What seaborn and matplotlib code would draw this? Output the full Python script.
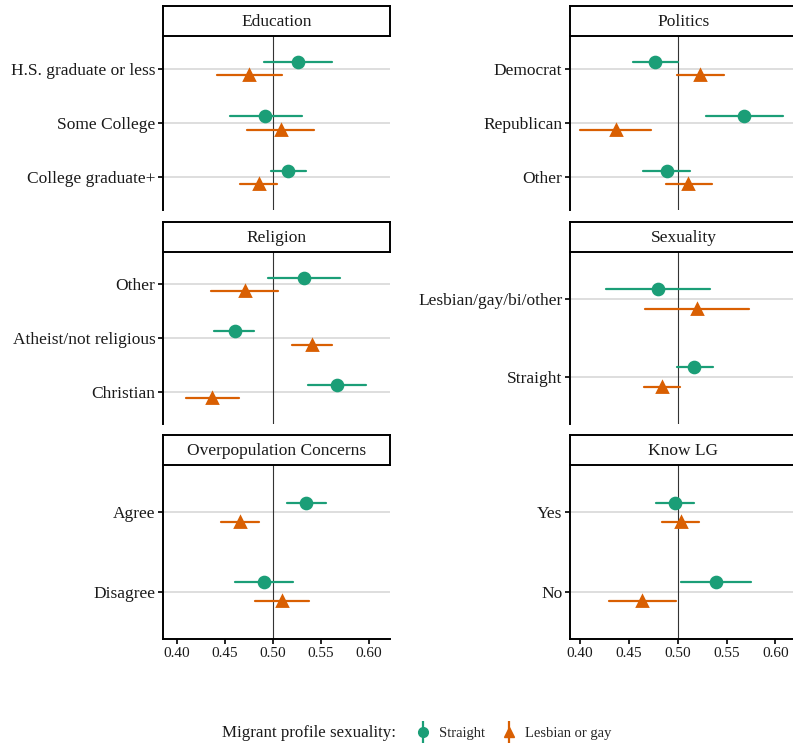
import numpy as np
import pandas as pd
import matplotlib
matplotlib.use("Agg")
import matplotlib.pyplot as plt
import seaborn as sns
from matplotlib.lines import Line2D
from matplotlib.legend_handler import HandlerTuple

sns.set_theme(style="white")
plt.rcParams['font.family'] = ['Liberation Serif', 'DejaVu Serif']

GREEN = "#1B9E77"
ORANGE = "#D95F02"
groups = ["Straight", "Lesbian or gay"]

# ---------------- data (estimate, lower, upper) ----------------
edu_levels = ["H.S. graduate or less", "Some College", "College graduate+"]
edu_s_est = [0.526, 0.492, 0.516]
edu_s_lo = [0.491, 0.455, 0.498]
edu_s_hi = [0.562, 0.530, 0.534]
edu_g_est = [0.475, 0.508, 0.485]
edu_g_lo = [0.442, 0.473, 0.466]
edu_g_hi = [0.510, 0.543, 0.504]

pol_levels = ["Democrat", "Republican", "Other"]
pol_s_est = [0.477, 0.568, 0.489]
pol_s_lo = [0.454, 0.529, 0.465]
pol_s_hi = [0.500, 0.608, 0.513]
pol_g_est = [0.523, 0.437, 0.511]
pol_g_lo = [0.499, 0.400, 0.488]
pol_g_hi = [0.547, 0.473, 0.535]

rel_levels = ["Other", "Atheist/not religious", "Christian"]
rel_s_est = [0.532, 0.460, 0.567]
rel_s_lo = [0.495, 0.439, 0.537]
rel_s_hi = [0.570, 0.480, 0.597]
rel_g_est = [0.471, 0.541, 0.437]
rel_g_lo = [0.436, 0.520, 0.409]
rel_g_hi = [0.505, 0.562, 0.465]

sex_levels = ["Lesbian/gay/bi/other", "Straight"]
sex_s_est = [0.480, 0.517]
sex_s_lo = [0.427, 0.499]
sex_s_hi = [0.533, 0.536]
sex_g_est = [0.520, 0.484]
sex_g_lo = [0.467, 0.466]
sex_g_hi = [0.573, 0.502]

ovp_levels = ["Agree", "Disagree"]
ovp_s_est = [0.535, 0.491]
ovp_s_lo = [0.515, 0.461]
ovp_s_hi = [0.555, 0.521]
ovp_g_est = [0.466, 0.509]
ovp_g_lo = [0.446, 0.481]
ovp_g_hi = [0.486, 0.538]

klg_levels = ["Yes", "No"]
klg_s_est = [0.497, 0.539]
klg_s_lo = [0.478, 0.503]
klg_s_hi = [0.517, 0.575]
klg_g_est = [0.503, 0.464]
klg_g_lo = [0.484, 0.430]
klg_g_hi = [0.522, 0.498]

x_ticks = [0.40, 0.45, 0.50, 0.55, 0.60]


def long_df(levels, s_est, s_lo, s_hi, g_est, g_lo, g_hi):
    rows = []
    for i, lev in enumerate(levels):
        for grp, est, lo, hi in ((groups[0], s_est, s_lo, s_hi),
                                 (groups[1], g_est, g_lo, g_hi)):
            for v in (lo[i], est[i], hi[i]):
                rows.append({"level": lev, "group": grp, "value": v})
    return pd.DataFrame(rows)


panels = [
    ("Education", edu_levels, edu_s_est, edu_s_lo, edu_s_hi, edu_g_est, edu_g_lo, edu_g_hi),
    ("Politics", pol_levels, pol_s_est, pol_s_lo, pol_s_hi, pol_g_est, pol_g_lo, pol_g_hi),
    ("Religion", rel_levels, rel_s_est, rel_s_lo, rel_s_hi, rel_g_est, rel_g_lo, rel_g_hi),
    ("Sexuality", sex_levels, sex_s_est, sex_s_lo, sex_s_hi, sex_g_est, sex_g_lo, sex_g_hi),
    ("Overpopulation Concerns", ovp_levels, ovp_s_est, ovp_s_lo, ovp_s_hi, ovp_g_est, ovp_g_lo, ovp_g_hi),
    ("Know LG", klg_levels, klg_s_est, klg_s_lo, klg_s_hi, klg_g_est, klg_g_lo, klg_g_hi),
]

W, H = 793, 746
fig = plt.figure(figsize=(W / 100, H / 100), dpi=100)

col_x = [163, 570]
col_w = 227
col_xlim = [(0.3855, 0.622), (0.390, 0.622)]
row_top = [36, 252, 465]
row_bot = [210, 424, 639]
strip_h = 30

for idx, (title, levels, se, sl, sh, ge, gl, gh) in enumerate(panels):
    r, c = divmod(idx, 2)
    x0 = col_x[c] / W
    w = col_w / W
    y0 = 1 - row_bot[r] / H
    h = (row_bot[r] - row_top[r]) / H
    ax = fig.add_axes([x0, y0, w, h])
    df = long_df(levels, se, sl, sh, ge, gl, gh)
    sns.pointplot(data=df, x="value", y="level", hue="group", hue_order=groups,
                  order=levels, estimator="median", errorbar=("pi", 100),
                  dodge=0.25, markers=["o", "^"], linestyle="none",
                  palette=[GREEN, ORANGE], markersize=7.8,
                  err_kws={"linewidth": 1.6}, legend=False, orient="h", ax=ax)
    n = len(levels)
    ax.set_ylim(n - 1 + 0.6, -0.6)
    ax.set_xlim(*col_xlim[c])
    ax.axvline(0.5, color="#333333", lw=0.8, zorder=1)
    for i in range(n):
        ax.axhline(i, color="#d4d4d4", lw=1.1, zorder=0.5)
    ax.set_xlabel("")
    ax.set_ylabel("")
    for s in ("top", "right"):
        ax.spines[s].set_visible(False)
    ax.spines["left"].set_color("black")
    ax.spines["left"].set_linewidth(1.4)
    ax.tick_params(axis="y", length=3.5, width=1.2, color="black",
                   labelsize=12.5, labelcolor="#1a1a1a", pad=2, left=True)
    ax.set_xticks(x_ticks)
    if r == 2:
        ax.spines["bottom"].set_color("black")
        ax.spines["bottom"].set_linewidth(1.4)
        ax.set_xticklabels([f"{t:.2f}" for t in x_ticks])
        ax.tick_params(axis="x", length=3.5, width=1.2, color="black",
                       labelsize=11, labelcolor="#1a1a1a", pad=2, bottom=True)
    else:
        ax.spines["bottom"].set_visible(False)
        ax.tick_params(axis="x", length=0, labelbottom=False)
    # strip
    sax = fig.add_axes([x0, 1 - row_top[r] / H, w, strip_h / H])
    sax.set_xticks([])
    sax.set_yticks([])
    sax.set_facecolor("white")
    for s in sax.spines.values():
        s.set_visible(True)
        s.set_color("black")
        s.set_linewidth(1.4)
    sax.text(0.5, 0.48, title, ha="center", va="center", fontsize=12.5,
             color="#1a1a1a", transform=sax.transAxes)

# legend
fig.text(222 / W, 1 - 733 / H, "Migrant profile sexuality:", fontsize=12.2,
         va="center", ha="left", color="#1a1a1a")
handles = []
for col, mk in ((GREEN, "o"), (ORANGE, "^")):
    handles.append((Line2D([0], [0], color=col, marker="|", markersize=16,
                           mew=1.6, linestyle="none"),
                    Line2D([0], [0], color=col, marker=mk, markersize=7,
                           linestyle="none")))
fig.legend(handles, groups, handler_map={tuple: HandlerTuple(ndivide=1)},
           loc="center left", bbox_to_anchor=(413 / W, 1 - 733 / H), ncol=2,
           frameon=False, fontsize=10.5, handlelength=1.4, handletextpad=0.4,
           columnspacing=0.9, borderaxespad=0, borderpad=0)

fig.savefig("out.png", dpi=100, facecolor="white")
